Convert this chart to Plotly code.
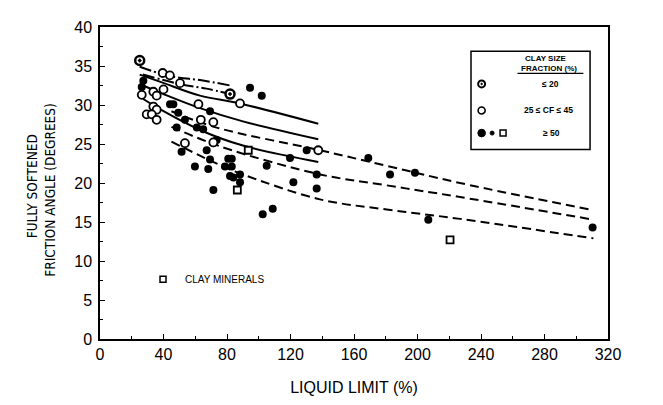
import plotly.graph_objects as go

# ---------------- data ----------------
# clay size fraction <= 20 %
ll_cf20 = [25.0, 81.9]
phi_cf20 = [35.7, 31.4]

# 25 <= CF <= 45 %
ll_cf25 = [39.5, 44.0, 50.4, 26.3, 33.6, 35.7, 40.0, 62.0, 88.2, 33.6, 35.7,
           29.4, 32.6, 35.7, 63.5, 71.4, 71.4, 53.5, 137.5]
phi_cf25 = [34.1, 33.8, 32.8, 31.3, 31.7, 31.2, 32.0, 30.1, 30.2, 29.8, 29.4,
            28.8, 28.8, 28.1, 28.1, 27.8, 25.2, 25.1, 24.2]

# CF >= 50 %
ll_cf50 = [27.3, 26.3, 44.1, 46.2, 49.3, 53.5, 69.3, 48.3, 61.0, 65.0, 73.5,
           51.4, 67.2, 69.3, 94.5, 101.9, 119.7, 130.2, 80.8, 83.0, 59.8, 68.2,
           78.7, 83.0, 105.0, 81.9, 84.0, 88.2, 88.2, 121.8, 71.4, 102.5, 108.8,
           136.5, 136.5, 169.0, 182.7, 198.4, 206.8, 310.3]
phi_cf50 = [33.1, 32.3, 30.1, 30.1, 29.0, 28.1, 29.2, 27.1, 27.1, 26.9, 25.5,
            24.0, 24.2, 23.0, 32.2, 31.2, 23.2, 24.2, 23.1, 23.1, 22.1, 21.8,
            22.1, 22.1, 22.2, 20.9, 20.7, 21.1, 20.1, 20.1, 19.1, 16.0, 16.7,
            21.1, 19.3, 23.2, 21.1, 21.3, 15.3, 14.3]

# clay minerals
ll_min = [93.4, 86.5, 220.5]
phi_min = [24.2, 19.1, 12.7]

# trend curves, CF <= 20 (dash-dot)
dd1_ll = [25, 40, 50, 63, 82]
dd1_phi = [34.9, 33.9, 33.5, 33.2, 32.5]
dd2_ll = [27, 50, 67, 82]
dd2_phi = [33.9, 32.7, 32.1, 31.4]

# trend curves, 25 <= CF <= 45 (solid)
s1_ll = [25, 39, 63, 88, 137.5]
s1_phi = [33.9, 32.9, 31.2, 30.2, 27.6]
s2_ll = [26, 40, 63, 90, 137.5]
s2_phi = [32.6, 31.4, 29.6, 27.9, 25.6]
s3_ll = [27, 40, 63, 90, 137.5]
s3_phi = [30.8, 29.2, 26.8, 24.8, 22.7]

# trend curves, CF >= 50 (dashed)
d1_ll = [45, 73.5, 138.6, 180.6, 226.8, 310.8]
d1_phi = [29.2, 27.1, 24.2, 22.2, 20.0, 16.5]
d2_ll = [45, 75.6, 138.6, 180.6, 226.8, 310.8]
d2_phi = [27.2, 24.7, 21.1, 19.7, 18.2, 15.3]
d3_ll = [45, 74.5, 90, 138.6, 180.6, 226.8, 310.8]
d3_phi = [25.3, 22.4, 21.1, 17.9, 16.6, 15.4, 12.9]

x_ticks = [0, 40, 80, 120, 160, 200, 240, 280, 320]
y_ticks = [0, 5, 10, 15, 20, 25, 30, 35, 40]

FONT = "Liberation Sans, Arial, sans-serif"
NARROW = "Liberation Sans Narrow, Arial Narrow, DejaVu Sans Condensed, sans-serif"

fig = go.Figure()

for xs, ys, dash in [
    (dd1_ll, dd1_phi, "12px,3px,2px,3px"),
    (dd2_ll, dd2_phi, "12px,3px,2px,3px"),
    (s1_ll, s1_phi, "solid"),
    (s2_ll, s2_phi, "solid"),
    (s3_ll, s3_phi, "solid"),
    (d1_ll, d1_phi, "9px,5px"),
    (d2_ll, d2_phi, "9px,5px"),
    (d3_ll, d3_phi, "9px,5px"),
]:
    fig.add_trace(go.Scatter(x=xs, y=ys, mode="lines", line_shape="spline",
                             line=dict(color="black", width=2, dash=dash),
                             showlegend=False, hoverinfo="skip"))

fig.add_trace(go.Scatter(x=ll_cf50, y=phi_cf50, mode="markers", showlegend=False,
                         marker=dict(symbol="circle", size=8, color="black")))
fig.add_trace(go.Scatter(x=ll_cf25, y=phi_cf25, mode="markers", showlegend=False,
                         marker=dict(symbol="circle", size=8, color="white",
                                     line=dict(color="black", width=1.8))))
fig.add_trace(go.Scatter(x=ll_cf20, y=phi_cf20, mode="markers", showlegend=False,
                         marker=dict(symbol="circle-dot", size=9, color="white",
                                     line=dict(color="black", width=2.5))))
fig.add_trace(go.Scatter(x=ll_min, y=phi_min, mode="markers", showlegend=False,
                         marker=dict(symbol="square", size=7, color="white",
                                     line=dict(color="black", width=1.8))))

shapes = []
ann = []
# legend box
shapes.append(dict(type="rect", xref="x", yref="y", x0=233.7, x1=308.7, y0=24.3, y1=36.9,
                   line=dict(color="black", width=1.5), fillcolor="white", layer="above"))
shapes.append(dict(type="line", xref="x", yref="y", x0=263.0, x1=304.5, y0=34.05, y1=34.05,
                   line=dict(color="black", width=1.2)))
lfont = dict(family=FONT, size=8, color="black")
ann.append(dict(x=281, y=36.0, xref="x", yref="y", text="<b>CLAY SIZE</b>", showarrow=False,
                font=lfont, yanchor="middle"))
ann.append(dict(x=283, y=34.7, xref="x", yref="y", text="<b>FRACTION (%)</b>", showarrow=False,
                font=lfont, yanchor="middle"))
ann.append(dict(x=283.5, y=32.7, xref="x", yref="y", text="<b>≤ 20</b>", showarrow=False,
                font=dict(family=FONT, size=8.5, color="black")))
ann.append(dict(x=282.4, y=29.3, xref="x", yref="y", text="<b>25 ≤ CF ≤ 45</b>", showarrow=False,
                font=dict(family=FONT, size=8.5, color="black")))
ann.append(dict(x=284.5, y=26.4, xref="x", yref="y", text="<b>≥ 50</b>", showarrow=False,
                font=dict(family=FONT, size=8.5, color="black")))


def circ(xc, yc, r, fill, lw):
    return dict(type="circle", xref="x", yref="y", xsizemode="pixel", ysizemode="pixel",
                xanchor=xc, yanchor=yc, x0=-r, x1=r, y0=-r, y1=r,
                fillcolor=fill, line=dict(color="black", width=lw), layer="above")


shapes.append(circ(240.4, 32.7, 3.5, "white", 2))
shapes.append(circ(240.4, 32.7, 0.8, "black", 1))
shapes.append(circ(240.4, 29.3, 3.5, "white", 1.6))
shapes.append(circ(240.4, 26.4, 3.8, "black", 1))
shapes.append(circ(247.0, 26.4, 2.0, "black", 1))
shapes.append(dict(type="rect", xref="x", yref="y", xsizemode="pixel", ysizemode="pixel",
                   xanchor=253.9, yanchor=26.4, x0=-3, x1=3, y0=-3, y1=3,
                   fillcolor="white", line=dict(color="black", width=1.5), layer="above"))
# clay minerals key
shapes.append(dict(type="rect", xref="x", yref="y", xsizemode="pixel", ysizemode="pixel",
                   xanchor=39.7, yanchor=7.65, x0=-3, x1=3, y0=-3, y1=3,
                   fillcolor="white", line=dict(color="black", width=1.5), layer="above"))
ann.append(dict(x=52, y=7.65, xref="x", yref="y", xanchor="left", text="CLAY MINERALS",
                showarrow=False, font=dict(family=FONT, size=10, color="black")))

# y title (two lines)
ann.append(dict(x=-(100 - 21.5) / 508, y=(343 - 185) / 324, xref="paper", yref="paper",
                text="FULLY SOFTENED", textangle=-90, showarrow=False,
                font=dict(family=NARROW, size=13.5, color="black")))
ann.append(dict(x=-(100 - 40) / 508, y=(343 - 188) / 324, xref="paper", yref="paper",
                text="FRICTION ANGLE (DEGREES)", textangle=-90, showarrow=False,
                font=dict(family=NARROW, size=13.5, color="black")))

axis_common = dict(showgrid=False, zeroline=False, showline=True, linecolor="black",
                   linewidth=1.5, mirror=True, ticks="inside", ticklen=5, tickwidth=1,
                   tickcolor="black", tickfont=dict(family=FONT, size=16, color="black"))

# the page body adds an 8 px offset, so the figure is 8 px smaller on each side
fig.update_layout(
    width=655, height=397,
    margin=dict(l=92, r=55, t=11, b=62),
    plot_bgcolor="white", paper_bgcolor="white",
    shapes=shapes, annotations=ann,
    xaxis=dict(range=[0, 320], tickvals=x_ticks, ticktext=[str(v) for v in x_ticks],
               minor=dict(dtick=20, ticks="inside", ticklen=3, tickcolor="black"),
               title=dict(text="LIQUID LIMIT (%)", font=dict(family=FONT, size=16, color="black"),
                          standoff=20),
               **axis_common),
    yaxis=dict(range=[0, 40], tickvals=y_ticks, ticktext=[str(v) for v in y_ticks],
               minor=dict(dtick=2.5, ticks="inside", ticklen=3, tickcolor="black"),
               ticklabelstandoff=3,
               **axis_common),
)

fig.write_html("out.html")
